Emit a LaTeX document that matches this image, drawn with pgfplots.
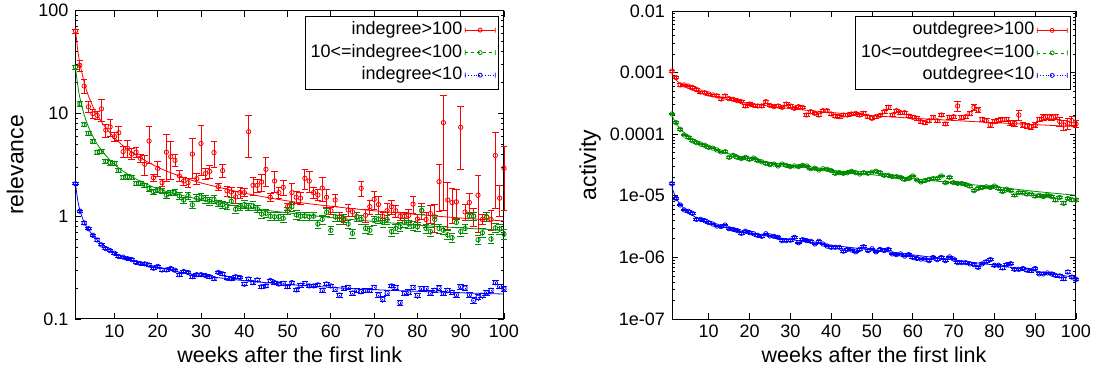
\documentclass[border=0pt]{standalone}
\usepackage{fontspec}
\setmainfont{Liberation Sans}
\usepackage{pgfplots}
\pgfplotsset{compat=1.18}

\definecolor{cR}{RGB}{255,0,0}
\definecolor{cG}{RGB}{0,140,0}
\definecolor{cB}{RGB}{0,0,255}

\pgfplotsset{
  pts/.style 2 args={only marks, mark=o, color=#1, mark size=2.2pt, line width=0.8pt,
    mark options={#1, solid, line width=0.8pt},
    forget plot,
    error bars/y dir=both, error bars/y explicit,
    error bars/error bar style={#1, #2, line width=0.9pt},
    error bars/error mark options={#1, solid, rotate=90, line width=0.9pt, mark size=3.3pt}},
  fitline/.style={line width=0.8pt, smooth, no marks, forget plot},
  errkey/.style 2 args={legend image code/.code={
      \draw[#1, #2, line width=0.8pt] (0pt,0pt) -- (30pt,0pt);
      \draw[#1, solid, line width=0.8pt] (0pt,-2.5pt) -- (0pt,2.5pt) (30pt,-2.5pt) -- (30pt,2.5pt)
        (15pt,0pt) circle[radius=2pt];
  }},
}

\begin{document}
\begin{tikzpicture}
\useasboundingbox (0pt,0pt) rectangle (1101pt,369pt);

% ---------------- relevance vs. weeks ----------------
\begin{axis}[ymode=log, scale only axis,
  at={(75.5pt,50pt)}, anchor=south west,
  width=428.5pt, height=308.3pt,
  xmin=1, xmax=100, xtick={10,20,...,100},
  ymin=0.1, ymax=100,
  ytick={0.1,1,10,100}, yticklabels={0.1,1,10,100},
  tick align=inside, major tick length=6pt, minor tick length=3pt,
  axis line style={line width=1pt},
  every tick/.style={black, line width=0.8pt},
  /pgf/number format/assume math mode=true,
  tick label style={font=\fontsize{18}{20}\selectfont},
  xticklabel style={anchor=base, yshift=-18pt},
  yticklabel style={anchor=east, inner sep=0pt, xshift=-7pt},
  xlabel={weeks after the first link},
  xlabel style={at={(axis description cs:0.5,0)}, anchor=base, yshift=-43pt,
                font=\fontsize{21.5}{24}\selectfont},
  ylabel={relevance},
  ylabel style={at={(axis description cs:-0.1214,0.5)}, anchor=base,
                font=\fontsize{23}{26}\selectfont},
  clip=false,
  legend cell align=right, legend plot pos=right,
  legend style={at={(1,1)}, anchor=north east, xshift=-5pt, yshift=-5pt,
                draw=black, line width=0.8pt, fill=white,
                font=\fontsize{18}{20}\selectfont, inner sep=3pt, row sep=0.5pt,
                nodes={inner sep=2.5pt, text height=13pt, text depth=4pt}}]

\addplot[pts={cR}{solid}] table[row sep=\\, x index=0, y index=1, y error index=2] {
x y e\\
1 63.4 3\\ 2 29.4 3.5\\ 3 18.5 2.8\\ 4 11.6 1.4\\ 5 9.95 1.0\\ 6 9.6 0.8\\ 7 11.1 2.7\\ 8 6.9 1.0\\ 9 7.4 1.4\\ 10 5.95 0.6\\
11 6.5 1.0\\ 12 4.25 0.5\\ 13 4.6 0.9\\ 14 4.03 0.5\\ 15 4.2 0.5\\ 16 3.66 0.35\\ 17 3.2 0.7\\ 18 5.4 2.1\\ 19 2.37 0.2\\ 20 2.92 0.5\\
21 2.12 0.15\\ 22 4.2 2.0\\ 23 3.8 1.5\\ 24 3.5 0.45\\ 25 2.47 0.3\\ 26 2.2 0.2\\ 27 2.12 0.2\\ 28 4.03 1.7\\ 29 2.32 0.3\\ 30 5.1 2.6\\
31 2.6 0.3\\ 32 2.73 0.4\\ 33 4.16 1.2\\ 34 1.94 0.15\\ 35 2.78 0.4\\ 36 1.77 0.2\\ 37 1.72 0.2\\ 38 1.54 0.2\\ 39 1.70 0.2\\ 40 1.70 0.15\\
41 6.65 2.9\\ 42 2.0 0.4\\ 43 2.0 0.3\\ 44 2.15 0.4\\ 45 2.86 0.9\\ 46 1.53 0.15\\ 47 2.2 0.5\\ 48 1.70 0.2\\ 49 1.91 0.3\\ 50 1.24 0.1\\
51 1.70 0.4\\ 52 1.53 0.2\\ 53 1.50 0.2\\ 54 2.34 0.5\\ 55 2.2 0.5\\ 56 1.70 0.2\\ 57 1.61 0.2\\ 58 1.88 0.5\\ 59 1.53 0.3\\ 60 1.13 0.1\\
61 1.44 0.2\\ 62 0.99 0.1\\ 63 0.93 0.1\\ 64 1.15 0.15\\ 65 1.10 0.1\\ 66 0.99 0.1\\ 67 1.87 0.3\\ 68 1.02 0.15\\ 69 1.24 0.2\\ 70 1.46 0.3\\
71 1.30 0.25\\ 72 1.0 0.1\\ 73 1.13 0.2\\ 74 1.24 0.2\\ 75 1.13 0.15\\ 76 1.0 0.1\\ 77 1.0 0.1\\ 78 1.02 0.15\\ 79 1.31 0.25\\ 80 0.94 0.1\\
81 1.13 0.2\\ 82 0.93 0.15\\ 83 1.06 0.2\\ 84 0.99 0.3\\ 85 2.17 1.05\\ 86 8.14 7.0\\ 87 1.44 0.7\\ 88 1.36 0.5\\ 89 1.38 0.45\\ 90 7.33 4.5\\
91 1.10 0.2\\ 92 1.36 0.3\\ 93 1.0 0.2\\ 94 1.6 0.9\\ 95 0.93 0.1\\ 96 0.98 0.1\\ 97 0.93 0.2\\ 98 3.9 2.7\\ 99 1.5 0.5\\ 100 2.93 1.8\\
};
\addplot[fitline, cR] coordinates {(1,65) (1.5,42) (2,30.9) (3,20.1) (4,14.8) (5,11.75) (6,9.73) (7,8.31) (8,7.26) (10,5.8) (12,4.85) (15,3.92) (20,3.0) (25,2.46) (30,2.11) (40,1.68) (50,1.41) (60,1.25) (70,1.13) (80,1.04) (90,0.96) (100,0.90)};

\addplot[pts={cG}{dashed}] table[row sep=\\, x index=0, y index=1, y error index=2] {
x y e\\
1 28.3 1.2\\ 2 12.4 0.6\\ 3 7.78 0.35\\ 4 6.41 0.3\\ 5 5.32 0.25\\ 6 4.19 0.2\\ 7 4.25 0.2\\ 8 3.42 0.17\\ 9 3.32 0.17\\ 10 3.27 0.17\\
11 2.78 0.14\\ 12 2.39 0.12\\ 13 2.42 0.12\\ 14 2.39 0.12\\ 15 2.08 0.1\\ 16 2.1 0.1\\ 17 2.0 0.1\\ 18 1.85 0.1\\ 19 1.73 0.1\\ 20 1.82 0.1\\
21 1.77 0.1\\ 22 1.60 0.1\\ 23 1.70 0.1\\ 24 1.70 0.12\\ 25 1.58 0.12\\ 26 1.44 0.1\\ 27 1.58 0.12\\ 28 1.29 0.1\\ 29 1.5 0.12\\ 30 1.54 0.12\\
31 1.46 0.12\\ 32 1.40 0.12\\ 33 1.46 0.12\\ 34 1.34 0.1\\ 35 1.30 0.1\\ 36 1.26 0.1\\ 37 1.40 0.12\\ 38 1.17 0.1\\ 39 1.24 0.1\\ 40 1.3 0.12\\
41 1.23 0.1\\ 42 1.26 0.12\\ 43 1.18 0.1\\ 44 1.05 0.1\\ 45 1.07 0.1\\ 46 1.0 0.09\\ 47 0.99 0.09\\ 48 0.99 0.09\\ 49 0.955 0.09\\ 50 1.13 0.1\\
51 1.24 0.12\\ 52 1.03 0.1\\ 53 1.0 0.09\\ 54 1.01 0.09\\ 55 0.99 0.09\\ 56 1.0 0.09\\ 57 0.84 0.08\\ 58 0.93 0.09\\ 59 1.09 0.1\\ 60 0.73 0.07\\
61 0.99 0.1\\ 62 0.93 0.09\\ 63 0.955 0.09\\ 64 0.84 0.08\\ 65 0.68 0.07\\ 66 0.99 0.1\\ 67 0.93 0.09\\ 68 0.76 0.08\\ 69 0.73 0.07\\ 70 0.91 0.09\\
71 0.94 0.09\\ 72 0.87 0.09\\ 73 0.93 0.09\\ 74 0.71 0.07\\ 75 0.76 0.08\\ 76 0.79 0.08\\ 77 0.87 0.09\\ 78 0.84 0.08\\ 79 0.80 0.08\\ 80 0.79 0.08\\
81 1.14 0.11\\ 82 0.76 0.08\\ 83 0.71 0.07\\ 84 0.93 0.09\\ 85 0.76 0.08\\ 86 0.73 0.07\\ 87 0.66 0.07\\ 88 0.62 0.06\\ 89 0.87 0.09\\ 90 0.71 0.07\\
91 0.76 0.08\\ 92 1.0 0.1\\ 93 1.0 0.1\\ 94 0.59 0.06\\ 95 0.69 0.07\\ 96 0.99 0.1\\ 97 0.60 0.06\\ 98 0.77 0.08\\ 99 0.75 0.08\\ 100 0.67 0.07\\
};
\addplot[fitline, cG] coordinates {(1,28) (1.5,19) (2,14.3) (3,9.7) (4,7.4) (5,6.0) (6,5.05) (7,4.4) (8,3.9) (10,3.2) (12,2.75) (15,2.3) (20,1.85) (25,1.62) (30,1.45) (40,1.22) (50,1.08) (60,0.97) (70,0.89) (80,0.82) (90,0.77) (100,0.73)};

\addplot[pts={cB}{dotted}] table[row sep=\\, x index=0, y index=1, y error index=2] {
x y e\\
1 2.07 0.05\\ 2 1.12 0.03\\ 3 0.86 0.02\\ 4 0.757 0.02\\ 5 0.653 0.015\\ 6 0.588 0.015\\ 7 0.526 0.012\\ 8 0.484 0.012\\ 9 0.463 0.011\\ 10 0.436 0.011\\
11 0.405 0.01\\ 12 0.40 0.01\\ 13 0.387 0.01\\ 14 0.378 0.01\\ 15 0.354 0.009\\ 16 0.346 0.009\\ 17 0.344 0.009\\ 18 0.335 0.009\\ 19 0.312 0.008\\ 20 0.325 0.009\\
21 0.30 0.008\\ 22 0.30 0.008\\ 23 0.31 0.008\\ 24 0.298 0.008\\ 25 0.270 0.008\\ 26 0.29 0.008\\ 27 0.284 0.008\\ 28 0.258 0.008\\ 29 0.270 0.008\\ 30 0.27 0.008\\
31 0.265 0.008\\ 32 0.258 0.008\\ 33 0.247 0.008\\ 34 0.284 0.009\\ 35 0.275 0.009\\ 36 0.249 0.008\\ 37 0.247 0.008\\ 38 0.258 0.008\\ 39 0.254 0.008\\ 40 0.218 0.008\\
41 0.245 0.008\\ 42 0.226 0.008\\ 43 0.24 0.008\\ 44 0.206 0.008\\ 45 0.21 0.008\\ 46 0.237 0.008\\ 47 0.226 0.008\\ 48 0.219 0.008\\ 49 0.222 0.008\\ 50 0.206 0.008\\
51 0.226 0.008\\ 52 0.192 0.008\\ 53 0.213 0.008\\ 54 0.222 0.008\\ 55 0.21 0.008\\ 56 0.21 0.008\\ 57 0.215 0.008\\ 58 0.189 0.008\\ 59 0.219 0.008\\ 60 0.21 0.008\\
61 0.195 0.008\\ 62 0.171 0.008\\ 63 0.198 0.008\\ 64 0.203 0.008\\ 65 0.179 0.008\\ 66 0.189 0.008\\ 67 0.184 0.008\\ 68 0.189 0.008\\ 69 0.189 0.008\\ 70 0.203 0.008\\
71 0.171 0.009\\ 72 0.156 0.009\\ 73 0.179 0.009\\ 74 0.21 0.009\\ 75 0.203 0.009\\ 76 0.144 0.008\\ 77 0.177 0.009\\ 78 0.182 0.01\\ 79 0.203 0.009\\ 80 0.17 0.009\\
81 0.198 0.009\\ 82 0.198 0.009\\ 83 0.179 0.009\\ 84 0.19 0.009\\ 85 0.20 0.01\\ 86 0.177 0.009\\ 87 0.19 0.01\\ 88 0.182 0.009\\ 89 0.172 0.009\\ 90 0.206 0.01\\
91 0.2 0.01\\ 92 0.172 0.009\\ 93 0.152 0.009\\ 94 0.163 0.009\\ 95 0.17 0.009\\ 96 0.18 0.009\\ 97 0.19 0.01\\ 98 0.225 0.01\\ 99 0.207 0.01\\ 100 0.196 0.01\\
};
\addplot[fitline, cB] coordinates {(1,2.07) (1.5,1.45) (2,1.15) (3,0.87) (4,0.74) (5,0.655) (6,0.59) (7,0.54) (8,0.50) (10,0.44) (12,0.40) (15,0.36) (20,0.32) (25,0.287) (30,0.265) (40,0.236) (50,0.217) (60,0.203) (70,0.193) (80,0.186) (90,0.18) (100,0.175)};

\addlegendimage{errkey={cR}{solid}}
\addlegendentry{indegree>100}
\addlegendimage{errkey={cG}{dashed}}
\addlegendentry{10<=indegree<100}
\addlegendimage{errkey={cB}{dotted}}
\addlegendentry{indegree<10}
\end{axis}

% ---------------- activity vs. weeks ----------------
\begin{axis}[ymode=log, scale only axis,
  at={(672pt,50pt)}, anchor=south west,
  width=404pt, height=308pt,
  xmin=1, xmax=100, xtick={10,20,...,100},
  ymin=1e-7, ymax=1e-2,
  ytick={1e-7,1e-6,1e-5,1e-4,1e-3,1e-2},
  yticklabels={1e-07,1e-06,1e-05,0.0001,0.001,0.01},
  tick align=inside, major tick length=6pt, minor tick length=3pt,
  axis line style={line width=1pt},
  every tick/.style={black, line width=0.8pt},
  /pgf/number format/assume math mode=true,
  tick label style={font=\fontsize{18}{20}\selectfont},
  xticklabel style={anchor=base, yshift=-18pt},
  yticklabel style={anchor=east, inner sep=0pt, xshift=-7pt},
  xlabel={weeks after the first link},
  xlabel style={at={(axis description cs:0.5,0)}, anchor=base, yshift=-43pt,
                font=\fontsize{21.5}{24}\selectfont},
  ylabel={activity},
  ylabel style={at={(axis description cs:-0.188,0.5)}, anchor=base,
                font=\fontsize{23}{26}\selectfont},
  clip=false,
  legend cell align=right, legend plot pos=right,
  legend style={at={(1,1)}, anchor=north east, xshift=-5pt, yshift=-5pt,
                draw=black, line width=0.8pt, fill=white,
                font=\fontsize{18}{20}\selectfont, inner sep=3pt, row sep=0.5pt,
                nodes={inner sep=2.5pt, text height=13pt, text depth=4pt}}]

\addplot[pts={cR}{solid}] table[row sep=\\, x index=0, y index=1, y error index=2] {
x y e\\
1 1.06e-3 0.4e-4\\ 2 8.28e-4 0.3e-4\\ 3 6.3e-4 0.25e-4\\ 4 6.3e-4 0.2e-4\\ 5 6.06e-4 0.2e-4\\ 6 5.76e-4 0.2e-4\\ 7 5.35e-4 0.2e-4\\ 8 4.84e-4 0.18e-4\\ 9 4.72e-4 0.18e-4\\ 10 4.49e-4 0.17e-4\\
11 4.33e-4 0.17e-4\\ 12 4.2e-4 0.17e-4\\ 13 3.73e-4 0.15e-4\\ 14 4.17e-4 0.17e-4\\ 15 3.77e-4 0.15e-4\\ 16 3.68e-4 0.15e-4\\ 17 3.5e-4 0.15e-4\\ 18 3.37e-4 0.15e-4\\ 19 2.87e-4 0.13e-4\\ 20 3.09e-4 0.14e-4\\
21 2.94e-4 0.13e-4\\ 22 2.87e-4 0.13e-4\\ 23 2.87e-4 0.13e-4\\ 24 3.37e-4 0.2e-4\\ 25 2.94e-4 0.15e-4\\ 26 2.8e-4 0.13e-4\\ 27 2.87e-4 0.13e-4\\ 28 2.73e-4 0.13e-4\\ 29 3.09e-4 0.15e-4\\ 30 2.87e-4 0.14e-4\\
31 2.63e-4 0.13e-4\\ 32 2.8e-4 0.14e-4\\ 33 2.73e-4 0.13e-4\\ 34 2.05e-4 0.1e-4\\ 35 2.32e-4 0.11e-4\\ 36 2.18e-4 0.11e-4\\ 37 2.05e-4 0.1e-4\\ 38 2.41e-4 0.12e-4\\ 39 2.41e-4 0.12e-4\\ 40 2.13e-4 0.1e-4\\
41 1.97e-4 0.1e-4\\ 42 1.93e-4 0.1e-4\\ 43 2.05e-4 0.1e-4\\ 44 2.05e-4 0.1e-4\\ 45 2.13e-4 0.11e-4\\ 46 2.18e-4 0.11e-4\\ 47 2.05e-4 0.11e-4\\ 48 2.18e-4 0.12e-4\\ 49 1.93e-4 0.1e-4\\ 50 1.81e-4 0.1e-4\\
51 1.93e-4 0.1e-4\\ 52 2.02e-4 0.11e-4\\ 53 2.32e-4 0.13e-4\\ 54 2.73e-4 0.25e-4\\ 55 2.05e-4 0.12e-4\\ 56 2.41e-4 0.14e-4\\ 57 2.24e-4 0.13e-4\\ 58 2.24e-4 0.13e-4\\ 59 1.97e-4 0.12e-4\\ 60 1.88e-4 0.11e-4\\
61 1.81e-4 0.11e-4\\ 62 1.6e-4 0.1e-4\\ 63 1.54e-4 0.1e-4\\ 64 1.65e-4 0.1e-4\\ 65 1.88e-4 0.15e-4\\ 66 1.65e-4 0.1e-4\\ 67 2.05e-4 0.13e-4\\ 68 1.47e-4 0.1e-4\\ 69 1.88e-4 0.12e-4\\ 70 1.93e-4 0.12e-4\\
71 2.87e-4 0.55e-4\\ 72 1.88e-4 0.12e-4\\ 73 1.93e-4 0.12e-4\\ 74 2.18e-4 0.14e-4\\ 75 2.73e-4 0.3e-4\\ 76 2.47e-4 0.2e-4\\ 77 1.74e-4 0.12e-4\\ 78 1.65e-4 0.12e-4\\ 79 1.41e-4 0.12e-4\\ 80 1.6e-4 0.12e-4\\
81 1.7e-4 0.12e-4\\ 82 1.74e-4 0.13e-4\\ 83 1.74e-4 0.13e-4\\ 84 1.54e-4 0.15e-4\\ 85 1.5e-4 0.15e-4\\ 86 2.05e-4 0.4e-4\\ 87 1.41e-4 0.12e-4\\ 88 1.36e-4 0.12e-4\\ 89 1.32e-4 0.12e-4\\ 90 1.41e-4 0.13e-4\\
91 1.74e-4 0.15e-4\\ 92 1.88e-4 0.18e-4\\ 93 1.93e-4 0.2e-4\\ 94 1.88e-4 0.2e-4\\ 95 1.92e-4 0.2e-4\\ 96 1.6e-4 0.25e-4\\ 97 1.41e-4 0.25e-4\\ 98 1.5e-4 0.3e-4\\ 99 1.66e-4 0.25e-4\\ 100 1.47e-4 0.2e-4\\
};
\addplot[fitline, cR] coordinates {(1,9.5e-4) (2,7.6e-4) (3,6.6e-4) (5,5.5e-4) (7,4.9e-4) (10,4.3e-4) (15,3.6e-4) (20,3.15e-4) (30,2.6e-4) (40,2.25e-4) (50,2.0e-4) (60,1.82e-4) (70,1.67e-4) (80,1.54e-4) (90,1.43e-4) (100,1.33e-4)};

\addplot[pts={cG}{dashed}] table[row sep=\\, x index=0, y index=1, y error index=2] {
x y e\\
1 2.13e-4 6e-6\\ 2 1.54e-4 4.5e-6\\ 3 1.2e-4 3.6e-6\\ 4 9.7e-5 2.9e-6\\ 5 8.9e-5 2.7e-6\\ 6 7.85e-5 2.4e-6\\ 7 7.29e-5 2.2e-6\\ 8 6.93e-5 2.1e-6\\ 9 6.6e-5 2e-6\\ 10 6.12e-5 1.8e-6\\
11 5.95e-5 1.8e-6\\ 12 5.55e-5 1.7e-6\\ 13 5.15e-5 1.5e-6\\ 14 5.2e-5 1.6e-6\\ 15 4.22e-5 1.3e-6\\ 16 4.54e-5 1.4e-6\\ 17 4.22e-5 1.3e-6\\ 18 4.01e-5 1.2e-6\\ 19 4.22e-5 1.3e-6\\ 20 3.91e-5 1.2e-6\\
21 4.11e-5 1.2e-6\\ 22 3.72e-5 1.1e-6\\ 23 3.55e-5 1.1e-6\\ 24 3.37e-5 1e-6\\ 25 3.2e-5 1e-6\\ 26 3.28e-5 1e-6\\ 27 3.05e-5 9e-7\\ 28 3.28e-5 1e-6\\ 29 3.12e-5 9e-7\\ 30 2.97e-5 9e-7\\
31 3.05e-5 9e-7\\ 32 2.97e-5 9e-7\\ 33 3.12e-5 9e-7\\ 34 3.05e-5 9e-7\\ 35 2.75e-5 8e-7\\ 36 2.8e-5 8e-7\\ 37 2.62e-5 8e-7\\ 38 2.75e-5 8e-7\\ 39 2.7e-5 8e-7\\ 40 2.56e-5 8e-7\\
41 2.32e-5 7e-7\\ 42 2.37e-5 7e-7\\ 43 2.32e-5 7e-7\\ 44 2.37e-5 7e-7\\ 45 2.5e-5 8e-7\\ 46 2.37e-5 7e-7\\ 47 2.26e-5 7e-7\\ 48 2.37e-5 7e-7\\ 49 2.32e-5 7e-7\\ 50 2.43e-5 7e-7\\
51 2.5e-5 8e-7\\ 52 2.37e-5 7e-7\\ 53 2.15e-5 7e-7\\ 54 2.15e-5 7e-7\\ 55 2.05e-5 6e-7\\ 56 2.05e-5 6e-7\\ 57 2.0e-5 6e-7\\ 58 1.85e-5 6e-7\\ 59 1.9e-5 6e-7\\ 60 2.1e-5 6e-7\\
61 1.81e-5 6e-7\\ 62 1.68e-5 5e-7\\ 63 1.77e-5 5e-7\\ 64 1.85e-5 6e-7\\ 65 1.9e-5 6e-7\\ 66 1.92e-5 6e-7\\ 67 2.1e-5 7e-7\\ 68 1.63e-5 5e-7\\ 69 2.0e-5 6e-7\\ 70 1.63e-5 5e-7\\
71 1.59e-5 5e-7\\ 72 1.59e-5 5e-7\\ 73 1.52e-5 5e-7\\ 74 1.44e-5 5e-7\\ 75 1.21e-5 4e-7\\ 76 1.32e-5 4e-7\\ 77 1.36e-5 4e-7\\ 78 1.4e-5 4e-7\\ 79 1.36e-5 4e-7\\ 80 1.44e-5 5e-7\\
81 1.32e-5 4e-7\\ 82 1.17e-5 4e-7\\ 83 1.28e-5 4e-7\\ 84 1.21e-5 4e-7\\ 85 1.03e-5 4e-7\\ 86 1.12e-5 4e-7\\ 87 1.12e-5 4e-7\\ 88 1.07e-5 4e-7\\ 89 1.07e-5 4e-7\\ 90 9.9e-6 4e-7\\
91 1.02e-5 4e-7\\ 92 9.7e-6 4e-7\\ 93 1.03e-5 4e-7\\ 94 9.7e-6 4e-7\\ 95 8.55e-6 4e-7\\ 96 9.4e-6 4e-7\\ 97 7.55e-6 4e-7\\ 98 9.0e-6 4e-7\\ 99 8.6e-6 4e-7\\ 100 8.55e-6 4e-7\\
};
\addplot[fitline, cG] coordinates {(1,2.0e-4) (2,1.5e-4) (3,1.22e-4) (4,1.05e-4) (5,9.3e-5) (7,7.6e-5) (10,6.2e-5) (15,4.8e-5) (20,4.0e-5) (30,3.1e-5) (40,2.6e-5) (50,2.2e-5) (60,1.9e-5) (70,1.62e-5) (80,1.4e-5) (90,1.18e-5) (100,1.02e-5)};

\addplot[pts={cB}{dotted}] table[row sep=\\, x index=0, y index=1, y error index=2] {
x y e\\
1 1.57e-5 5e-7\\ 2 9.1e-6 3e-7\\ 3 7.1e-6 2e-7\\ 4 5.89e-6 2e-7\\ 5 5.6e-6 2e-7\\ 6 5.19e-6 1.5e-7\\ 7 4.15e-6 1.2e-7\\ 8 4.15e-6 1.2e-7\\ 9 3.95e-6 1.2e-7\\ 10 3.66e-6 1.1e-7\\
11 3.48e-6 1e-7\\ 12 3.23e-6 1e-7\\ 13 3.16e-6 1e-7\\ 14 3.35e-6 1e-7\\ 15 2.92e-6 9e-8\\ 16 2.85e-6 9e-8\\ 17 2.72e-6 8e-8\\ 18 2.46e-6 7e-8\\ 19 2.66e-6 8e-8\\ 20 2.52e-6 8e-8\\
21 2.42e-6 7e-8\\ 22 2.28e-6 7e-8\\ 23 2.2e-6 7e-8\\ 24 2.42e-6 7e-8\\ 25 2.23e-6 7e-8\\ 26 2.2e-6 7e-8\\ 27 2.12e-6 6e-8\\ 28 1.87e-6 6e-8\\ 29 1.87e-6 6e-8\\ 30 1.9e-6 6e-8\\
31 2.12e-6 6e-8\\ 32 1.73e-6 5e-8\\ 33 1.94e-6 6e-8\\ 34 1.87e-6 6e-8\\ 35 1.83e-6 6e-8\\ 36 1.65e-6 5e-8\\ 37 1.83e-6 6e-8\\ 38 1.65e-6 5e-8\\ 39 1.53e-6 5e-8\\ 40 1.46e-6 5e-8\\
41 1.46e-6 5e-8\\ 42 1.46e-6 5e-8\\ 43 1.26e-6 4e-8\\ 44 1.35e-6 4e-8\\ 45 1.32e-6 4e-8\\ 46 1.23e-6 4e-8\\ 47 1.35e-6 4e-8\\ 48 1.49e-6 5e-8\\ 49 1.29e-6 4e-8\\ 50 1.38e-6 4e-8\\
51 1.23e-6 4e-8\\ 52 1.35e-6 4e-8\\ 53 1.29e-6 4e-8\\ 54 1.35e-6 4e-8\\ 55 1.14e-6 4e-8\\ 56 1.11e-6 4e-8\\ 57 1.14e-6 4e-8\\ 58 1.05e-6 3e-8\\ 59 1.11e-6 4e-8\\ 60 1.0e-6 3e-8\\
61 9.6e-7 3e-8\\ 62 9.4e-7 3e-8\\ 63 9.4e-7 3e-8\\ 64 8.85e-7 3e-8\\ 65 1.0e-6 3e-8\\ 66 9.2e-7 3e-8\\ 67 1.0e-6 3e-8\\ 68 8.85e-7 3e-8\\ 69 1.02e-6 3e-8\\ 70 9.4e-7 3e-8\\
71 8.2e-7 3e-8\\ 72 8.2e-7 3e-8\\ 73 8.2e-7 3e-8\\ 74 7.85e-7 3e-8\\ 75 7.6e-7 3e-8\\ 76 6.9e-7 3e-8\\ 77 7.85e-7 3e-8\\ 78 8.5e-7 3e-8\\ 79 9.2e-7 3e-8\\ 80 7.45e-7 3e-8\\
81 7.45e-7 3e-8\\ 82 6.75e-7 3e-8\\ 83 7.6e-7 3e-8\\ 84 7.9e-7 3e-8\\ 85 6.4e-7 3e-8\\ 86 6.4e-7 3e-8\\ 87 6.6e-7 3e-8\\ 88 6.2e-7 3e-8\\ 89 6.1e-7 3e-8\\ 90 6.6e-7 3e-8\\
91 5.4e-7 2e-8\\ 92 5.4e-7 2e-8\\ 93 5.6e-7 2e-8\\ 94 5.4e-7 2e-8\\ 95 5.1e-7 2e-8\\ 96 5.0e-7 2e-8\\ 97 4.5e-7 2e-8\\ 98 5.8e-7 3e-8\\ 99 4.8e-7 2e-8\\ 100 4.4e-7 2e-8\\
};
\addplot[fitline, cB] coordinates {(1,1.35e-5) (2,9.2e-6) (3,7.3e-6) (4,6.2e-6) (5,5.4e-6) (7,4.4e-6) (10,3.6e-6) (15,2.95e-6) (20,2.5e-6) (30,1.95e-6) (40,1.58e-6) (50,1.32e-6) (60,1.1e-6) (70,9.1e-7) (80,7.5e-7) (90,6.0e-7) (100,4.7e-7)};

\addlegendimage{errkey={cR}{solid}}
\addlegendentry{outdegree>100}
\addlegendimage{errkey={cG}{dashed}}
\addlegendentry{10<=outdegree<=100}
\addlegendimage{errkey={cB}{dotted}}
\addlegendentry{outdegree<10}
\end{axis}
\end{tikzpicture}
\end{document}
